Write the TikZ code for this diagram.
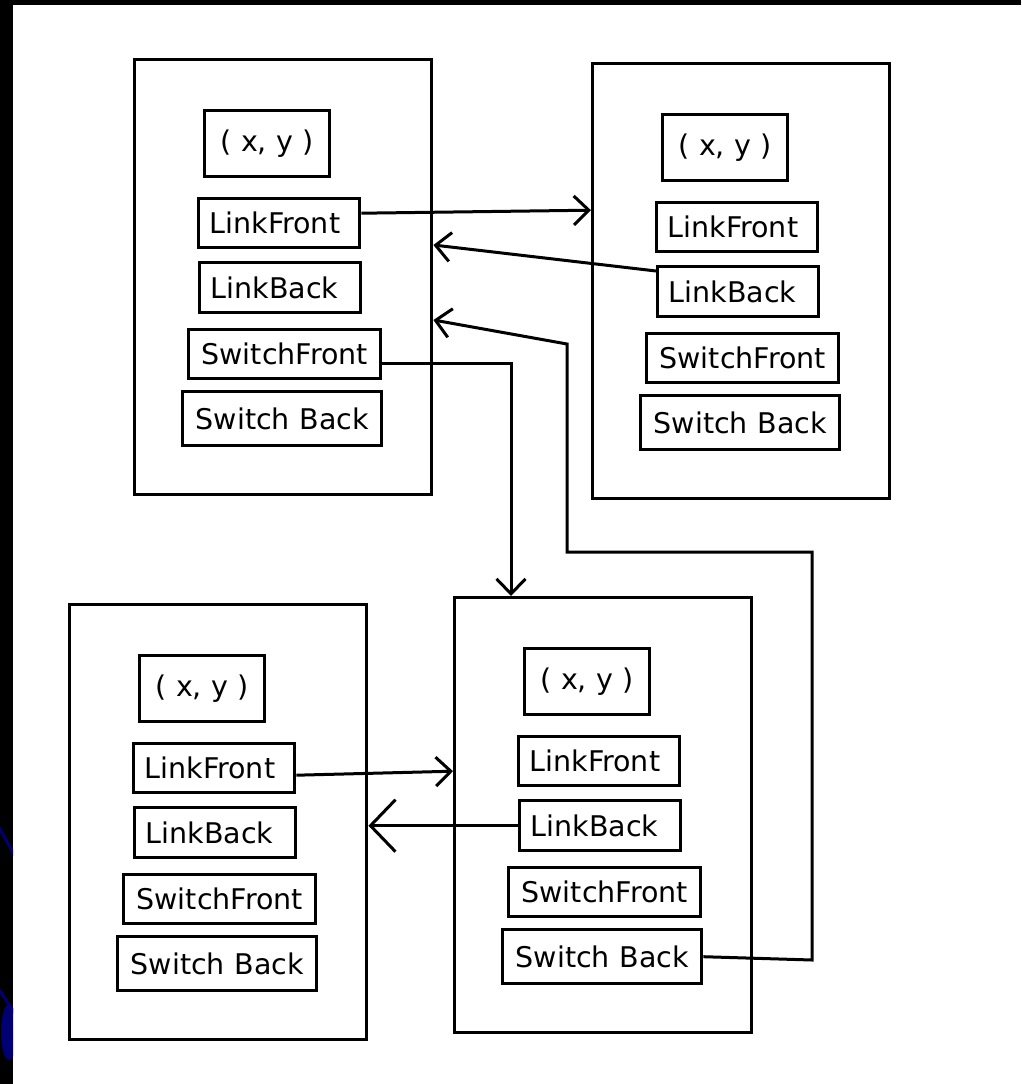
\documentclass[tikz,border=0pt]{standalone}
\usepackage{fontspec}
\setmainfont{DejaVu Sans}
\usetikzlibrary{arrows.meta,calc}
\tikzset{
  outerbox/.style={draw, line width=3.4pt, rectangle, inner sep=0pt},
  field/.style={draw, line width=3.4pt, rectangle, inner ysep=0pt, inner xsep=11pt,
    font=\fontsize{28.5}{31}\selectfont, anchor=north west},
  wire/.style={line width=3pt},
  arr/.style={wire, -{Straight Barb[length=15pt,width=29pt,line width=3pt]}},
  bigarr/.style={wire, -{Straight Barb[length=25pt,width=52pt,line width=3pt]}},
}
\newcommand\fieldbox[7]{% name, x, y, w, h, align, text
  \node[field, minimum width=#4pt, minimum height=#5pt, text width=#4pt-22pt, align=#6] (#1) at (#2,#3) {#7};
}
\newcommand\cellgroup[3]{% name, left, top
  \node[outerbox, minimum width=297pt, minimum height=435pt, anchor=north west] (#1) at (#2,#3) {};
  \fieldbox{#1-xy}{#2+70}{#3+51}{125}{66}{center}{( x, y )}
  \fieldbox{#1-lf}{#2+64}{#3+139}{161}{49}{left}{LinkFront}
  \fieldbox{#1-lb}{#2+65}{#3+203}{161}{50}{left}{LinkBack}
  \fieldbox{#1-sf}{#2+54}{#3+270}{192}{49}{center}{SwitchFront}
  \fieldbox{#1-sb}{#2+48}{#3+332}{199}{54}{center}{Switch Back}
}
\begin{document}
\begin{tikzpicture}[x=1pt, y=-1pt]
  \useasboundingbox (0,0) rectangle (1021,1084);
  \fill[white] (0,0) rectangle (1021,1084);
  \fill[black] (0,0) rectangle (1021,5);
  \fill[black] (0,0) rectangle (13,1084);
  \begin{scope}
    \clip (0,0) rectangle (13,1084);
    \draw[blue!45!black, line width=3pt] (-4,822) -- (16,858);
    \draw[blue!45!black, line width=3pt] (-4,985) -- (16,1015);
    \fill[blue!45!black] (9,1032) ellipse (8 and 28);
  \end{scope}

  \cellgroup{TL}{133}{58}
  \cellgroup{TR}{591}{62}
  \cellgroup{BL}{68}{603}
  \cellgroup{BR}{453}{596}

  % top pair
  \draw[arr] ($(TL-lf.east)+(0,10pt)$) -- ($(TL-lf.east -| TR.west)+(0,13pt)$);
  \draw[arr] ($(TR-lb.north west)+(0,-6pt)$) -- ($(TL.north east)+(0,-187pt)$);
  % switch links
  \draw[arr] ($(TL-sf.east)+(0,-9pt)$) -| ($(BR.north west)+(58pt,0)$);
  \draw[arr] (BR-sb.east) -- (812,960) -- (812,552) -- (567,552) -- (567,344)
    -- ($(TL.north east)+(0,-262pt)$);
  % bottom pair
  \draw[arr] ($(BL-lf.east)+(0,-7pt)$) -- ($(BL-lf.east -| BR.west)+(0,-3pt)$);
  \draw[bigarr] (BR-lb.west) -- (BR-lb.west -| BL.east);
\end{tikzpicture}
\end{document}
